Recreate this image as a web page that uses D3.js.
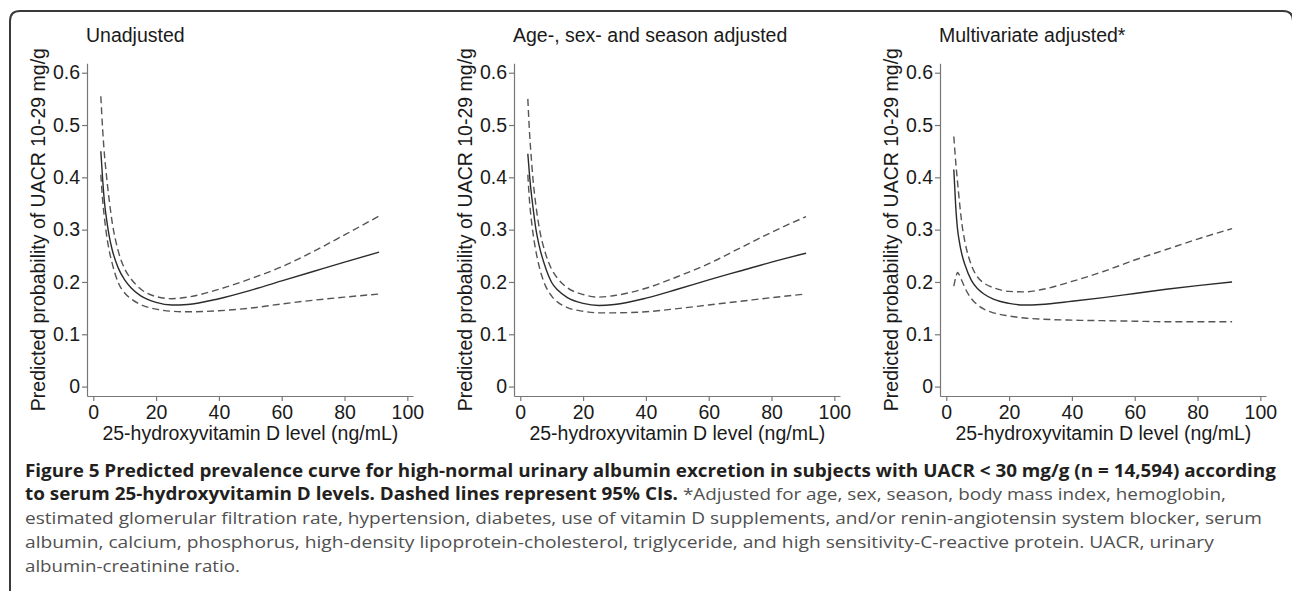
<!DOCTYPE html>
<html>
<head>
<meta charset="utf-8">
<script src="https://cdn.jsdelivr.net/npm/d3@7"></script>
<style>
	body { margin: 0; background: #fff; }
	svg { display: block; }
</style>
</head>
<body>
<div id="chart"></div>
<script>
// data
var titles = ["Unadjusted", "Age-, sex- and season adjusted", "Multivariate adjusted*"];
var xTicks = [0, 20, 40, 60, 80, 100];
var yTicks = [0, 0.1, 0.2, 0.3, 0.4, 0.5, 0.6];
var vitD = [2.4, 3, 3.6, 4, 5, 6, 8, 10, 12, 15, 20, 25, 30, 40, 50, 60, 70, 80, 91];

var unadjFit   = [0.450, 0.395, 0.350, 0.330, 0.290, 0.262, 0.226, 0.204, 0.189, 0.174, 0.161, 0.156, 0.157, 0.168, 0.184, 0.202, 0.220, 0.238, 0.257];
var unadjUpper = [0.555, 0.490, 0.440, 0.415, 0.360, 0.315, 0.258, 0.225, 0.206, 0.187, 0.172, 0.168, 0.171, 0.186, 0.206, 0.229, 0.258, 0.290, 0.326];
var unadjLower = [0.405, 0.355, 0.320, 0.300, 0.262, 0.236, 0.198, 0.179, 0.168, 0.157, 0.148, 0.144, 0.143, 0.145, 0.150, 0.158, 0.165, 0.171, 0.177];

var assFit   = [0.445, 0.400, 0.365, 0.345, 0.300, 0.270, 0.228, 0.199, 0.184, 0.170, 0.159, 0.155, 0.157, 0.169, 0.186, 0.204, 0.221, 0.238, 0.255];
var assUpper = [0.550, 0.480, 0.430, 0.400, 0.345, 0.305, 0.255, 0.224, 0.206, 0.189, 0.176, 0.171, 0.174, 0.188, 0.210, 0.235, 0.265, 0.295, 0.325];
var assLower = [0.405, 0.350, 0.315, 0.295, 0.258, 0.230, 0.193, 0.173, 0.161, 0.151, 0.144, 0.141, 0.141, 0.143, 0.149, 0.156, 0.163, 0.170, 0.177];

var multiFit   = [0.415, 0.345, 0.300, 0.283, 0.252, 0.232, 0.203, 0.187, 0.177, 0.167, 0.159, 0.156, 0.157, 0.163, 0.170, 0.178, 0.186, 0.193, 0.200];
var multiUpper = [0.478, 0.430, 0.390, 0.365, 0.310, 0.275, 0.232, 0.209, 0.198, 0.189, 0.182, 0.181, 0.185, 0.201, 0.220, 0.242, 0.262, 0.282, 0.302];
var multiLower = [0.192, 0.208, 0.218, 0.215, 0.202, 0.188, 0.168, 0.156, 0.148, 0.141, 0.135, 0.131, 0.129, 0.127, 0.126, 0.125, 0.124, 0.124, 0.124];

var yLabel = "Predicted probability of UACR 10-29 mg/g";
var xLabel = "25-hydroxyvitamin D level (ng/mL)";

// caption: each line is a list of [text, bold]
var caption = [
	[["Figure 5 Predicted prevalence curve for high-normal urinary albumin excretion in subjects with UACR < 30 mg/g (n = 14,594) according", true]],
	[["to serum 25-hydroxyvitamin D levels. Dashed lines represent 95% CIs.", true], [" *Adjusted for age, sex, season, body mass index, hemoglobin,", false]],
	[["estimated glomerular filtration rate, hypertension, diabetes, use of vitamin D supplements, and/or renin-angiotensin system blocker, serum", false]],
	[["albumin, calcium, phosphorus, high-density lipoprotein-cholesterol, triglyceride, and high sensitivity-C-reactive protein. UACR, urinary", false]],
	[["albumin-creatinine ratio.", false]]
];
var captionEnds = [1277, 1228, 1263, 1215, 240];

var panels = [
	{ title: titles[0], fit: unadjFit, upper: unadjUpper, lower: unadjLower },
	{ title: titles[1], fit: assFit, upper: assUpper, lower: assLower },
	{ title: titles[2], fit: multiFit, upper: multiUpper, lower: multiLower }
];

var width = 1292, height = 591;
var axisLeftX = [87, 514, 940];
var plotW = 326, plotTop = 63.3, plotBottom = 396;
var plotFont = "'Liberation Sans', Arial, Helvetica, sans-serif";

var svg = d3.select("#chart").append("svg")
	.attr("width", width)
	.attr("height", height);

// frame with rounded top corners, right edge sits just off the page
svg.append("path")
	.attr("d", "M10,592 V21 Q10,11 20,11 H1283 Q1293,11 1293,21 V592")
	.attr("fill", "none")
	.attr("stroke", "#3a3a3a")
	.attr("stroke-width", 2);

panels.forEach(function(p, i) {
	var left = axisLeftX[i];

	// domains run slightly past the ticks, like the stata plot region
	var x = d3.scaleLinear().domain([-2.0, 101.8]).range([left, left + plotW]);
	var y = d3.scaleLinear().domain([-0.018, 0.618]).range([plotBottom, plotTop]);

	var g = svg.append("g");

	// y axis
	var yAxis = g.append("g")
		.attr("transform", "translate(" + left + ",0)")
		.call(d3.axisLeft(y).tickValues(yTicks).tickSize(5).tickSizeOuter(0).tickPadding(2)
			.tickFormat(function(d) { return d === 0 ? "0" : d3.format(".1f")(d); }));

	// x axis
	var xAxis = g.append("g")
		.attr("transform", "translate(0," + plotBottom + ")")
		.call(d3.axisBottom(x).tickValues(xTicks).tickSize(5).tickSizeOuter(0).tickPadding(4));

	[yAxis, xAxis].forEach(function(a) {
		a.attr("font-family", null).attr("font-size", null);
		a.select(".domain").attr("stroke", "#777").attr("stroke-width", 1.2);
		a.selectAll(".tick line").attr("stroke", "#777").attr("stroke-width", 1.2);
		a.selectAll(".tick text")
			.attr("fill", "#1a1a1a")
			.style("font-family", plotFont)
			.style("font-size", "19.5px");
	});

	// title
	g.append("text")
		.attr("x", left - 1)
		.attr("y", 42)
		.attr("fill", "#1a1a1a")
		.style("font-family", plotFont)
		.style("font-size", "19.5px")
		.text(p.title);

	// axis titles
	g.append("text")
		.attr("transform", "translate(" + (left - 42) + "," + ((plotTop + plotBottom) / 2) + ") rotate(-90)")
		.attr("text-anchor", "middle")
		.attr("fill", "#1a1a1a")
		.style("font-family", plotFont)
		.style("font-size", "19.5px")
		.text(yLabel);

	g.append("text")
		.attr("x", (x(0) + x(100)) / 2)
		.attr("y", 440)
		.attr("text-anchor", "middle")
		.attr("fill", "#1a1a1a")
		.style("font-family", plotFont)
		.style("font-size", "19.5px")
		.text(xLabel);

	// curves
	var line = d3.line()
		.x(function(d) { return x(d[0]); })
		.y(function(d) { return y(d[1]); })
		.curve(d3.curveMonotoneX);

	var series = [
		{ values: p.upper, dash: "7,4", color: "#555" },
		{ values: p.lower, dash: "7,4", color: "#555" },
		{ values: p.fit, dash: null, color: "#2b2b2b" }
	];

	series.forEach(function(s) {
		g.append("path")
			.datum(d3.zip(vitD, s.values))
			.attr("d", line)
			.attr("fill", "none")
			.attr("stroke", s.color)
			.attr("stroke-width", 1.4)
			.attr("stroke-dasharray", s.dash);
	});
});

// caption
var capTop = 476.5, capStep = 23.75, capLeft = 25;
caption.forEach(function(parts, i) {
	var t = svg.append("text")
		.attr("x", 0)
		.attr("y", 0)
		.style("font-family", "'Open Sans', 'Noto Sans', sans-serif")
		.style("font-size", "17px");

	parts.forEach(function(part) {
		t.append("tspan")
			.attr("font-weight", part[1] ? "bold" : "normal")
			.attr("fill", part[1] ? "#231f20" : "#505050")
			.style("white-space", "pre")
			.text(part[0]);
	});

	// stretch line to the width used in the figure
	var w = t.node().getComputedTextLength();
	var sx = (captionEnds[i] - capLeft) / w;
	t.attr("transform", "translate(" + capLeft + "," + (capTop + i * capStep) + ") scale(" + sx + ",1)");
});
</script>
</body>
</html>
